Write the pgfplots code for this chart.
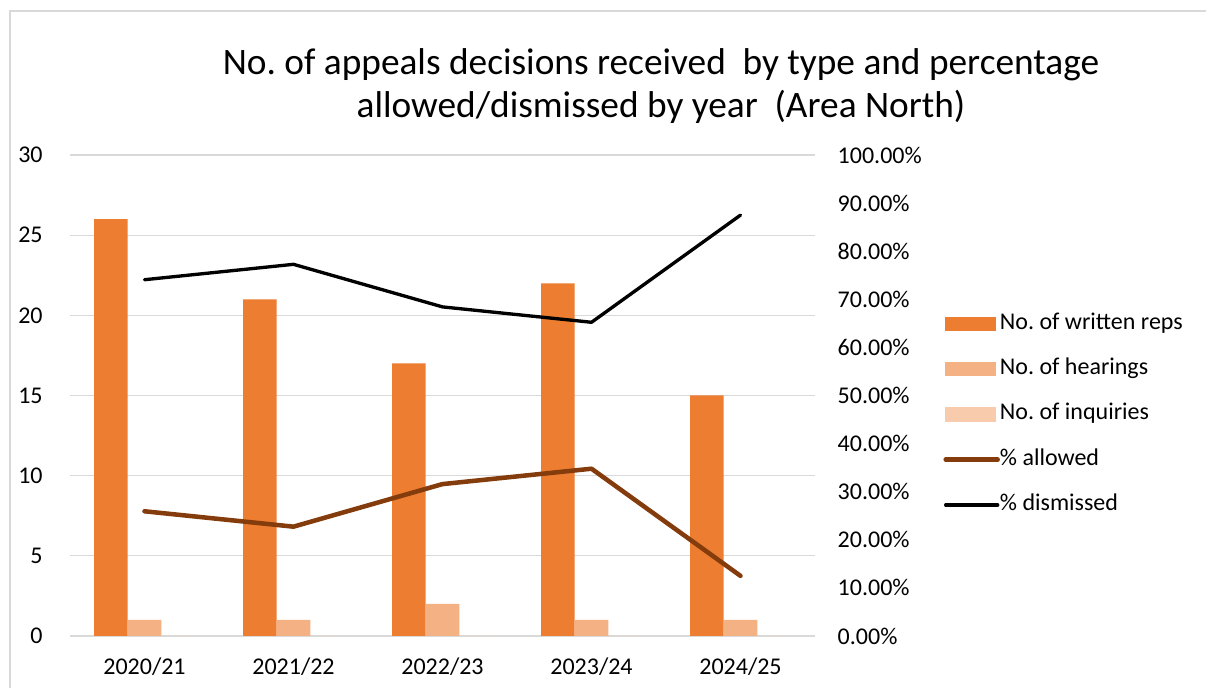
\documentclass[border=0pt]{standalone}
\usepackage{pgfplots}
\pgfplotsset{compat=1.18}
\usepackage{pgfplotstable}
\usepackage{fontspec}
\setmainfont{Carlito}
\frenchspacing
\definecolor{wr}{HTML}{ED7D31}
\definecolor{hr}{HTML}{F4B183}
\definecolor{inq}{HTML}{F8CBAD}
\definecolor{allow}{HTML}{843C0C}
\definecolor{gridc}{HTML}{D9D9D9}
\pgfplotsset{/pgf/number format/assume math mode=true}

\pgfplotstableread{
x wr hr inq
0 26 1 0
1 21 1 0
2 17 2 0
3 22 1 0
4 15 1 0
}\bars
\pgfplotstableread{
x allowed dismissed
0 25.93 74.07
1 22.73 77.27
2 31.58 68.42
3 34.78 65.22
4 12.50 87.50
}\lines

\begin{document}
\begin{tikzpicture}
\useasboundingbox (0pt,0pt) rectangle (904.5pt,516pt);
\draw[gridc, line width=1pt] (7.5pt,-20pt) rectangle (930pt,507.75pt);
\node[anchor=base, font=\fontsize{28}{34}\selectfont] at (495.75pt,459.75pt) {No. of appeals decisions received~ by type and percentage};
\node[anchor=base, font=\fontsize{28}{34}\selectfont] at (495.75pt,427.5pt) {allowed/dismissed by year~ (Area North)};

\begin{axis}[
  at={(52.5pt,39pt)}, anchor=south west,
  scale only axis, width=558.75pt, height=360.75pt,
  xmin=-0.5, xmax=4.5, ymin=0, ymax=30,
  ytick={0,5,...,30},
  xtick={0,1,2,3,4},
  xticklabels={2020/21,2021/22,2022/23,2023/24,2024/25},
  axis line style={draw=none},
  tick pos=left,
  major tick length=0pt,
  ymajorgrids, grid style={gridc, line width=0.9pt},
  tick label style={font=\fontsize{18}{21}\selectfont},
  yticklabel style={anchor=east, xshift=-17pt},
  xticklabel style={anchor=north, yshift=-13pt},
  ybar=0pt, bar width=25.2pt,
]
\draw[gridc, line width=1.6pt] (axis cs:-0.5,0) -- (axis cs:4.5,0);
\addplot[fill=wr, draw=none] table[x=x, y=wr] {\bars};
\addplot[fill=hr, draw=none] table[x=x, y=hr] {\bars};
\addplot[fill=inq, draw=none] table[x=x, y=inq] {\bars};
\end{axis}

\begin{axis}[
  at={(52.5pt,39pt)}, anchor=south west,
  scale only axis, width=558.75pt, height=360.75pt,
  xmin=-0.5, xmax=4.5, ymin=0, ymax=100,
  ytick={0,10,...,100},
  xtick=\empty,
  axis line style={draw=none},
  ytick pos=right, yticklabel pos=right,
  major tick length=0pt,
  tick label style={font=\fontsize{18}{21}\selectfont},
  yticklabel={\pgfmathprintnumber[fixed,fixed zerofill,precision=2]{\tick}\%},
  yticklabel style={anchor=west, xshift=13.5pt},
  legend style={at={(1.172,0.672)}, anchor=north west, draw=none, fill=none,
    inner sep=0pt, row sep=18pt,
    font=\fontsize{18}{21}\selectfont,
    nodes={inner sep=0pt, text height=12pt, text depth=4pt},
    /tikz/every even column/.append style={column sep=4pt}},
  legend cell align=left,
]
\addlegendimage{legend image code/.code={\fill[wr] (0pt,-5pt) rectangle (37.5pt,5pt);}}
\addlegendentry{No. of written reps}
\addlegendimage{legend image code/.code={\fill[hr] (0pt,-5pt) rectangle (37.5pt,5pt);}}
\addlegendentry{No. of hearings}
\addlegendimage{legend image code/.code={\fill[inq] (0pt,-5pt) rectangle (37.5pt,5pt);}}
\addlegendentry{No. of inquiries}
\addplot[allow, line width=3.4pt, line join=round, line cap=round,
  legend image code/.code={\draw[allow, line width=3.4pt, line cap=round] (0pt,0pt) -- (39pt,0pt);}]
  table[x=x, y=allowed] {\lines};
\addlegendentry{\% allowed}
\addplot[black, line width=2.5pt, line join=round, line cap=round,
  legend image code/.code={\draw[black, line width=2.5pt, line cap=round] (0pt,0pt) -- (39pt,0pt);}]
  table[x=x, y=dismissed] {\lines};
\addlegendentry{\% dismissed}
\end{axis}
\end{tikzpicture}
\end{document}
